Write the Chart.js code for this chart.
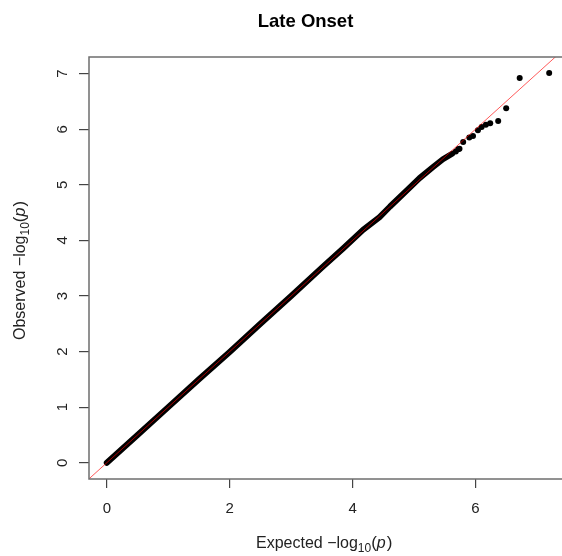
<!DOCTYPE html>
<html>
<head>
<meta charset="utf-8">
<script src="https://cdn.jsdelivr.net/npm/chart.js@4.4.1/dist/chart.umd.min.js"></script>
<style>
  html, body { margin: 0; padding: 0; background: #fff; overflow: hidden; }
  #wrap { width: 562px; height: 556px; overflow: hidden; }
</style>
</head>
<body>
<div id="wrap"><canvas id="qq" width="580" height="556"></canvas></div>
<script>
/* ---------- DATA ---------- */
const TITLE = "Late Onset";

// dense part of the QQ cloud: expected / observed -log10(p)
const denseExpected = [0, 0.5, 1.0, 1.5, 2.0, 2.5, 3.0, 3.5, 3.85, 4.17, 4.44, 4.61, 4.93, 5.09, 5.31, 5.47, 5.62];
const denseObserved = [0, 0.5, 1.0, 1.5, 1.99, 2.5, 3.0, 3.51, 3.86, 4.19, 4.42, 4.61, 4.95, 5.12, 5.32, 5.46, 5.56];

// sparse tail points
const tailExpected = [5.68, 5.72, 5.74, 5.80, 5.90, 5.96, 6.04, 6.10, 6.17, 6.24, 6.37, 6.50, 6.72, 7.20];
const tailObserved = [5.60, 5.64, 5.65, 5.77, 5.85, 5.88, 5.98, 6.04, 6.08, 6.11, 6.15, 6.38, 6.92, 7.01];

// y = x reference line ends
const refLine = [-0.4, 7.6];

const xTicks = [0, 2, 4, 6];
const yTicks = [0, 1, 2, 3, 4, 5, 6, 7];

const X_RANGE = [-0.29, 7.49];
const Y_RANGE = [-0.293, 7.30];

/* ---------- HELPERS ---------- */
const pairs = (xs, ys) => xs.map((x, i) => ({ x, y: ys[i] }));

const FONT = '"Liberation Sans", Arial, sans-serif';
const AXIS_COL = "#6e6e6e";
const TEXT_COL = "#222";

/* ---------- PLUGIN: box, tick labels, titles ---------- */
const rDecor = {
  id: "rDecor",
  afterDraw(chart) {
    const { ctx, chartArea: a, scales } = chart;
    const xs = scales.x, ys = scales.y;
    ctx.save();

    // box
    ctx.strokeStyle = AXIS_COL;
    ctx.lineWidth = 1.5;
    ctx.strokeRect(a.left, a.top, a.right - a.left, a.bottom - a.top);

    // x tick labels
    ctx.fillStyle = TEXT_COL;
    ctx.font = `15px ${FONT}`;
    ctx.textAlign = "center";
    ctx.textBaseline = "alphabetic";
    xTicks.forEach(v => {
      ctx.fillText(String(v), xs.getPixelForValue(v), 513);
    });

    // y tick labels (rotated like R)
    yTicks.forEach(v => {
      ctx.save();
      ctx.translate(66.5, ys.getPixelForValue(v));
      ctx.rotate(-Math.PI / 2);
      ctx.fillText(String(v), 0, 0);
      ctx.restore();
    });

    // titles
    ctx.font = `bold 18.5px ${FONT}`;
    ctx.fillStyle = "#000";
    ctx.fillText(TITLE, 305.5, 26.5);

    drawLogLabel(ctx, "Expected", 256, 547.5, 0);
    drawLogLabel(ctx, "Observed", 25, 340, -Math.PI / 2);

    ctx.restore();
  }
};

// "Name  −log10(p)" with a subscript and italic p
function drawLogLabel(ctx, name, x, y, rot) {
  ctx.save();
  ctx.translate(x, y);
  ctx.rotate(rot);
  ctx.fillStyle = TEXT_COL;
  ctx.textAlign = "left";
  ctx.textBaseline = "alphabetic";
  let cx = 0;
  const part = (txt, font, dy) => {
    ctx.font = font;
    ctx.fillText(txt, cx, dy);
    cx += ctx.measureText(txt).width;
  };
  part(name + " \u2212log", `16px ${FONT}`, 0);
  part("10", `12px ${FONT}`, 4);
  part("(", `17px ${FONT}`, 0);
  part("p", `italic 16px ${FONT}`, 0);
  cx += 1;
  part(")", `17px ${FONT}`, 0);
  ctx.restore();
}

/* ---------- CHART ---------- */
const ctx = document.getElementById("qq").getContext("2d");

new Chart(ctx, {
  type: "scatter",
  data: {
    datasets: [
      {
        label: "y = x",
        data: pairs(refLine, refLine),
        showLine: true,
        borderColor: "rgba(255,0,0,0.65)",
        borderWidth: 1,
        pointRadius: 0
      },
      {
        label: "dense",
        data: pairs(denseExpected, denseObserved),
        showLine: true,
        borderColor: "#000",
        borderWidth: 6,
        borderCapStyle: "round",
        borderJoinStyle: "round",
        pointRadius: 0
      },
      {
        label: "tail",
        data: pairs(tailExpected, tailObserved),
        backgroundColor: "#000",
        borderColor: "#000",
        pointRadius: 3,
        borderWidth: 0
      }
    ]
  },
  options: {
    responsive: false,
    animation: false,
    devicePixelRatio: 1,
    layout: { padding: { top: 57, right: 13, left: 0, bottom: 0 } },
    plugins: {
      legend: { display: false },
      tooltip: { enabled: false }
    },
    scales: {
      x: {
        type: "linear",
        min: X_RANGE[0],
        max: X_RANGE[1],
        afterBuildTicks: s => { s.ticks = xTicks.map(v => ({ value: v })); },
        afterFit: s => { s.height = 77; },
        ticks: { display: false },
        border: { display: false },
        grid: {
          drawOnChartArea: false,
          drawTicks: true,
          tickLength: 9,
          color: "#444",
          lineWidth: 1.2
        }
      },
      y: {
        type: "linear",
        min: Y_RANGE[0],
        max: Y_RANGE[1],
        afterBuildTicks: s => { s.ticks = yTicks.map(v => ({ value: v })); },
        afterFit: s => { s.width = 89; },
        ticks: { display: false },
        border: { display: false },
        grid: {
          drawOnChartArea: false,
          drawTicks: true,
          tickLength: 10,
          color: "#444",
          lineWidth: 1.2
        }
      }
    }
  },
  plugins: [rDecor]
});
</script>
</body>
</html>
